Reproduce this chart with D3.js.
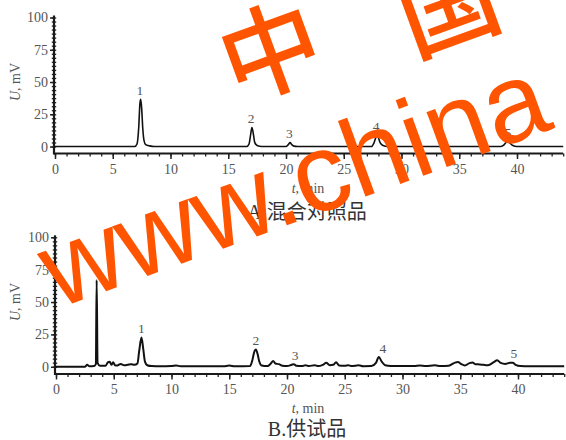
<!DOCTYPE html>
<html><head><meta charset="utf-8">
<script src="https://cdn.jsdelivr.net/npm/d3@7/dist/d3.min.js"></script>
<style>body{margin:0;background:#fff}svg{display:block}</style>
</head><body>
<svg id="c" width="566" height="440"></svg>
<script>
// ---------- data ----------
const yTicks = [0, 25, 50, 75, 100];
const xTicks = [0, 5, 10, 15, 20, 25, 30, 35, 40];
const titleA = "A.混合对照品";
const titleB = "B.供试品";
const xLabel = "min";
const yLabel = "mV";

// Panel A: mixed reference standard (time min, signal mV)
const timeA = [0,6.9,7.1,7.25,7.35,7.42,7.5,7.6,7.7,7.85,8.2,8.6,
  16.6,16.8,16.95,17.05,17.15,17.3,17.5,17.9,
  20.0,20.2,20.35,20.5,20.7,21.0,
  27.4,27.6,27.8,27.9,28.0,28.15,28.4,28.8,
  38.6,38.9,39.1,39.2,39.35,39.6,40.0,44];
const signalA = [0,0,2,15,33,36.6,30,14,5,1.5,0.5,0,
  0,2,10,14.8,11,3,0.8,0,
  0,1.5,3,1.5,0.3,0,
  0,2.5,7.5,8.8,7,3,0.8,0,
  0,1.5,3.6,4,3,1,0,0];
const peakTimeA = [7.35, 16.97, 20.3, 27.8, 39.2];
const peakHeightA = [36.6, 14.8, 3, 8.8, 4];
const peakNames = ["1", "2", "3", "4", "5"];

// Panel B: sample (time min, signal mV)
const timeB = [0,2.5,2.7,2.9,3.3,3.45,3.52,3.6,3.8,4.3,4.5,4.65,4.8,4.95,5.1,5.3,5.6,5.9,6.2,6.5,6.8,
  7.05,7.2,7.4,7.55,7.7,7.9,8.3,9,10,10.4,10.8,14.5,15,15.5,
  16.8,17.0,17.15,17.3,17.45,17.6,17.8,18.3,18.6,18.8,19.0,19.3,19.6,20.0,20.4,20.6,20.8,
  21.3,21.6,21.9,22.4,22.7,23.1,23.4,23.7,24.0,24.25,24.5,25,25.3,25.6,26.2,26.6,27.3,
  27.7,27.95,28.2,28.5,29,31,31.5,32,32.8,33.3,34.0,34.5,34.8,35.1,35.4,35.8,36.05,36.3,
  36.7,37,37.4,37.9,38.2,38.5,38.9,39.3,39.55,39.8,40.2,41,44];
const signalB = [0,0,1.5,0.3,0.5,2,67,3,0.8,0.8,3.5,3.8,1.5,3.5,1.2,1,2.2,1.2,1.5,2,1.5,
  2.5,12,22.5,14,4,1.2,0.5,0.3,0.5,1,0.3,0.3,1,0.3,
  0.5,5,11,13.3,10,4,1,0.5,2.5,4.5,2.5,2,0.8,0.5,1.5,2,0.8,
  0.5,1.2,0.5,1.2,0.5,1.5,3,1.2,1.5,3.5,1,0.8,1.2,0.5,1.2,0.4,0.5,
  3,7.5,4,1.2,0.6,0.5,1,0.5,1.1,0.5,0.8,3,3.7,2,1,2.8,3.3,2,
  1.8,1.5,1.2,3.5,5,3,2.2,3,3,1.5,0.5,0.3,0.3];
const peakTimeB = [7.4, 17.3, 20.7, 28.3, 39.65];
const peakHeightB = [22.5, 13.3, 2, 7.5, 3];

// watermark
const wmCJK = ["中", "国"];
const wmLatin = "www.china";

// ---------- drawing ----------
const svg = d3.select("#c");
const serif = "'Liberation Serif','DejaVu Serif',serif";
const cjk = "'Liberation Serif','Noto Sans CJK SC',serif";

function panel(cfg) {
  const g = svg.append("g");
  const x = d3.scaleLinear().domain([0, 44]).range([cfg.x0, cfg.x0 + 44 * 11.55]);
  const y = d3.scaleLinear().domain([cfg.yMin, 100]).range([cfg.yAxis, cfg.yTop]);

  // x axis: minor ticks
  const xMinor = d3.range(0, 45, 1);
  g.append("g").attr("transform", `translate(0,${cfg.yAxis})`)
    .call(d3.axisBottom(x).tickValues(xMinor).tickSize(3).tickFormat(""))
    .call(a => a.select(".domain").remove())
    .selectAll("line").attr("stroke", "#222").attr("stroke-width", 1.3);
  const xa = g.append("g").attr("transform", `translate(0,${cfg.yAxis})`)
    .call(d3.axisBottom(x).tickValues(xTicks).tickSize(5.5).tickPadding(5).tickFormat(d3.format("d")));
  xa.select(".domain").remove();
  xa.selectAll("line").attr("stroke", "#222").attr("stroke-width", 1.5);
  xa.selectAll("text").attr("font-family", serif).attr("font-size", 14).attr("fill", "#555");
  g.append("line").attr("x1", x(0) - 1).attr("x2", x(44)).attr("y1", cfg.yAxis).attr("y2", cfg.yAxis)
    .attr("stroke", "#1a1a1a").attr("stroke-width", 2.2);

  // y axis
  const yMinor = d3.range(0, 100.01, 25 / 8);
  g.append("g").attr("transform", `translate(${x(0) - 1},0)`)
    .call(d3.axisRight(y).tickValues(yMinor).tickSize(2.2).tickFormat(""))
    .call(a => a.select(".domain").remove())
    .selectAll("line").attr("stroke", "#222").attr("stroke-width", 1.3).attr("x1", -2.2);
  const ya = g.append("g").attr("transform", `translate(${x(0) - 1},0)`)
    .call(d3.axisLeft(y).tickValues(yTicks).tickSize(4).tickPadding(2));
  ya.select(".domain").remove();
  ya.selectAll("line").attr("stroke", "#222").attr("stroke-width", 1.5);
  ya.selectAll("text").attr("font-family", serif).attr("font-size", 14).attr("fill", "#555");
  g.append("line").attr("x1", x(0) - 1).attr("x2", x(0) - 1).attr("y1", y(100) - 2).attr("y2", cfg.yAxis + 1)
    .attr("stroke", "#1a1a1a").attr("stroke-width", 2.2);

  // signal
  const pts = cfg.t.map((t, i) => [t, cfg.v[i]]);
  g.append("path").datum(pts)
    .attr("d", d3.line().x(d => x(d[0])).y(d => y(d[1])).curve(d3.curveMonotoneX))
    .attr("fill", "none").attr("stroke", "#111").attr("stroke-width", cfg.sw).attr("stroke-linejoin", "round");

  // peak labels
  g.selectAll(".pl").data(cfg.pt).enter().append("text")
    .attr("x", d => x(d)).attr("y", (d, i) => y(cfg.ph[i]) - 4.5)
    .attr("text-anchor", "middle").attr("font-family", serif).attr("font-size", 13.5)
    .attr("fill", "#555").text((d, i) => peakNames[i]);

  // axis titles
  const yl = g.append("text").attr("transform", `translate(20,${(y(100) + y(0)) / 2}) rotate(-90)`)
    .attr("text-anchor", "middle").attr("font-family", serif).attr("font-size", 14).attr("fill", "#555");
  yl.append("tspan").attr("font-style", "italic").text("U");
  yl.append("tspan").text(", " + yLabel);
  const xl = g.append("text").attr("x", 308).attr("y", cfg.yAxis + 39)
    .attr("text-anchor", "middle").attr("font-family", serif).attr("font-size", 14).attr("fill", "#555");
  xl.append("tspan").attr("font-style", "italic").text("t");
  xl.append("tspan").text(", " + xLabel);
  g.append("text").attr("x", 307).attr("y", cfg.titleY).attr("text-anchor", "middle")
    .attr("font-family", cjk).attr("font-size", 20).attr("fill", "#333").text(cfg.title);
}

panel({x0: 55, yAxis: 153.5, yTop: 17.5, yMin: -5.4, t: timeA, v: signalA, pt: peakTimeA, ph: peakHeightA, sw: 1.6, title: titleA, titleY: 219});
panel({x0: 56, yAxis: 374, yTop: 237.3, yMin: -5.6, t: timeB, v: signalB, pt: peakTimeB, ph: peakHeightB, sw: 2, title: titleB, titleY: 436});

// watermark
const wm = svg.append("g").attr("fill", "#ff5500");
wm.append("text").attr("transform", "translate(283,86) rotate(-20)").attr("text-anchor", "middle")
  .attr("font-family", "'Noto Sans CJK SC'").attr("font-weight", 500).attr("font-size", 100).text(wmCJK[0]);
wm.append("text").attr("transform", "translate(460,40) rotate(-20)").attr("text-anchor", "middle")
  .attr("font-family", "'Noto Sans CJK SC'").attr("font-weight", 500).attr("font-size", 100).text(wmCJK[1]);
wm.append("text").attr("transform", "translate(57,309) rotate(-20)").attr("text-anchor", "start")
  .attr("font-family", "'Liberation Sans',Arial,sans-serif").attr("font-size", 111).text(wmLatin);
</script>
</body></html>
